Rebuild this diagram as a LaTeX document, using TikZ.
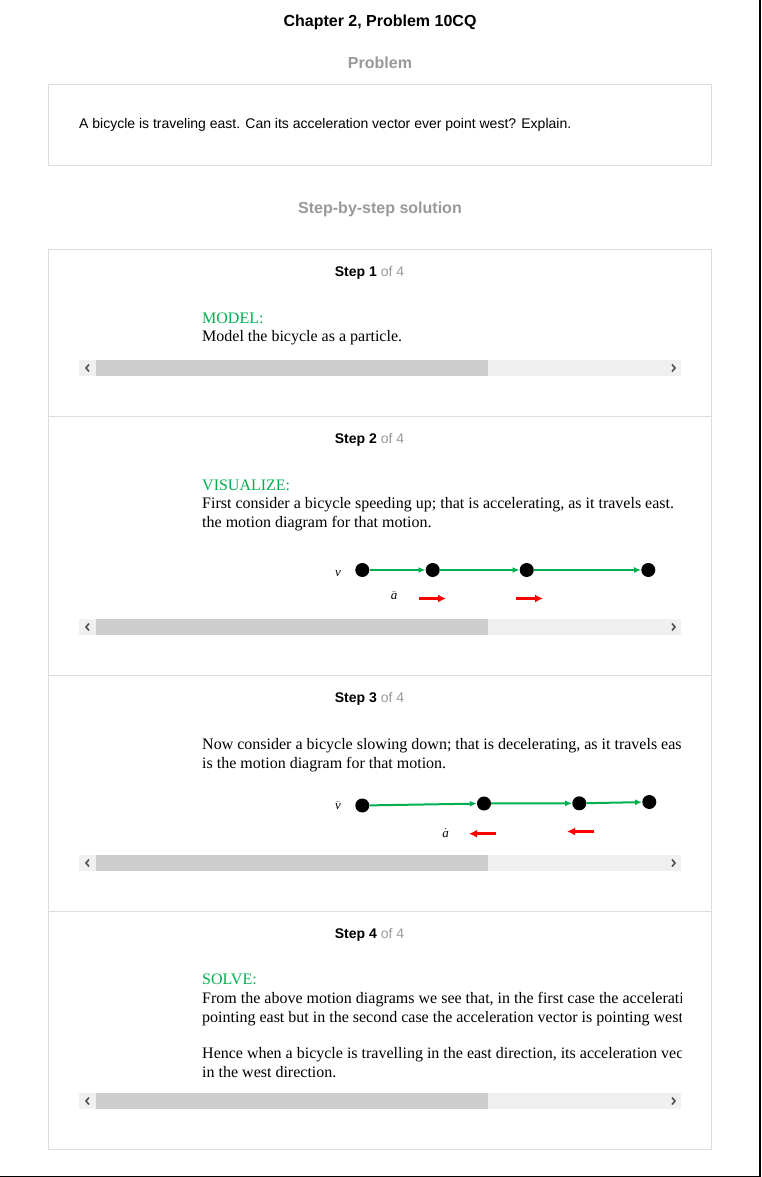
\documentclass[tikz,border=0pt]{standalone}
\usepackage{fontspec}
\setmainfont{Liberation Serif}
\newfontfamily\arial{Liberation Sans}
\usetikzlibrary{arrows.meta}
\definecolor{boxgray}{HTML}{DDDDDD}
\definecolor{hgray}{HTML}{999999}
\definecolor{sgreen}{HTML}{00B050}
\definecolor{track}{HTML}{F0F0F0}
\definecolor{thumb}{HTML}{CDCDCD}
\definecolor{chev}{HTML}{505050}
\begin{document}
\begin{tikzpicture}[x=1pt,y=-1pt,
  title/.style={font=\arial\bfseries\fontsize{16}{19}\selectfont, anchor=base, inner sep=0},
  sec/.style={title, text=hgray},
  ptext/.style={font=\arial\fontsize{14}{16}\selectfont, anchor=base west, inner sep=0},
  stephead/.style={font=\arial\fontsize{14}{16}\selectfont, anchor=base, inner sep=0},
  body/.style={font=\fontsize{16}{18.4}\selectfont, anchor=base west, inner sep=0},
  lbl/.style={body, text=sgreen},
  sym/.style={font=\itshape\fontsize{13}{15}\selectfont, inner sep=0},
  dot/.style={circle, fill=black, minimum size=14pt, inner sep=0},
  garrow/.style={draw=sgreen, line width=2pt, -{Latex[length=7pt,width=6pt]}},
  rarrow/.style={draw=red, line width=2.5pt, -{Latex[length=8pt,width=8pt]}},
  frame/.style={draw=boxgray, line width=1pt}
]
% canvas
\fill[white] (0,0) rectangle (761,1177);
\useasboundingbox (0,0) rectangle (761,1177);
\draw[black, line width=1.5pt] (760,0) -- (760,1176.3) -- (0,1176.3);

% headings
\node[title] (ttl) at (380,27) {Chapter 2, Problem 10CQ};
\node[sec] (prb) at (380,69) {Problem};
\draw[frame] (48,84.5) rectangle (711,166);
\node[ptext] (ptx) at (79,129) {A bicycle is traveling east. Can its acceleration vector ever point west? Explain.};
\node[sec] (sbs) at (380,213.5) {Step-by-step solution};

% solution box
\draw[frame] (48,249.5) rectangle (711,1149);
\draw[frame] (48,416) -- (711,416);
\draw[frame] (48,675) -- (711,675);
\draw[frame] (48,911) -- (711,911);

% step headers
\node[stephead] (s1) at (369.5,276) {\bfseries Step 1 \mdseries\color{hgray}of 4};
\node[stephead] (s2) at (369.5,443) {\bfseries Step 2 \mdseries\color{hgray}of 4};
\node[stephead] (s3) at (369.5,702) {\bfseries Step 3 \mdseries\color{hgray}of 4};
\node[stephead] (s4) at (369.5,938) {\bfseries Step 4 \mdseries\color{hgray}of 4};

% scrollbars
\foreach \yy in {360,619,855,1093}{
  \fill[track] (79,\yy) rectangle (681,\yy+16);
  \fill[thumb] (96,\yy) rectangle (488,\yy+16);
  \draw[chev, line width=1.6pt] (89,\yy+4.5) -- (86,\yy+8) -- (89,\yy+11.5);
  \draw[chev, line width=1.6pt] (672,\yy+4.5) -- (675,\yy+8) -- (672,\yy+11.5);
}

% body texts (clipped at the scroll area edge)
\begin{scope}
\clip (0,0) rectangle (681,1177);
\node[lbl]  (m1) at (202,323.5) {MODEL:};
\node[body] (t1) at (202,341.5) {Model the bicycle as a particle.};
\node[lbl]  (m2) at (202,490.5) {VISUALIZE:};
\node[body] (t2a) at (202,508.5) {First consider a bicycle speeding up; that is accelerating, as it travels east.};
\node[body] (t2b) at (202,527.5) {the motion diagram for that motion.};
\node[body] (t3a) at (202,749.5) {Now consider a bicycle slowing down; that is decelerating, as it travels east.};
\node[body] (t3b) at (202,768.5) {is the motion diagram for that motion.};
\node[lbl]  (m4) at (202,984.5) {SOLVE:};
\node[body] (t4a) at (202,1003.5) {From the above motion diagrams we see that, in the first case the acceleration};
\node[body] (t4b) at (202,1022.5) {pointing east but in the second case the acceleration vector is pointing west.};
\node[body] (t4c) at (202,1058.5) {Hence when a bicycle is travelling in the east direction, its acceleration vector};
\node[body] (t4d) at (202,1077.5) {in the west direction.};
\end{scope}

% step 2 motion diagram
\node[sym] (v2) at (338,574) {v};
\node[dot] (a1) at (362.3,570) {};
\node[dot] (a2) at (432.7,570) {};
\node[dot] (a3) at (526.7,570) {};
\node[dot] (a4) at (648.3,570) {};
\draw[garrow] (a1) -- (a2);
\draw[garrow] (a2) -- (a3);
\draw[garrow] (a3) -- (a4);
\node[sym] (acc2) at (394,596) {$\bar{\textit{a}}$};
\coordinate (r1s) at (419,598.5);
\coordinate (r1e) at (446,598.5);
\coordinate (r2s) at (516,598.5);
\coordinate (r2e) at (543,598.5);
\draw[rarrow] (r1s) -- (r1e);
\draw[rarrow] (r2s) -- (r2e);

% step 3 motion diagram
\node[sym] (v3) at (338,806) {$\bar{\textit{v}}$};
\node[dot] (b1) at (362.3,805.5) {};
\node[dot] (b2) at (484,803.5) {};
\node[dot] (b3) at (579.3,803.3) {};
\node[dot] (b4) at (649.3,802) {};
\draw[garrow] (b1) -- (b2);
\draw[garrow] (b2) -- (b3);
\draw[garrow] (b3) -- (b4);
\node[sym] (acc3) at (445.7,833) {$\dot{\textit{a}}$};
\coordinate (q1s) at (496,833.7);
\coordinate (q1e) at (469,833.7);
\coordinate (q2s) at (594,831.5);
\coordinate (q2e) at (567,831.5);
\draw[rarrow] (q1s) -- (q1e);
\draw[rarrow] (q2s) -- (q2e);
\end{tikzpicture}
\end{document}
